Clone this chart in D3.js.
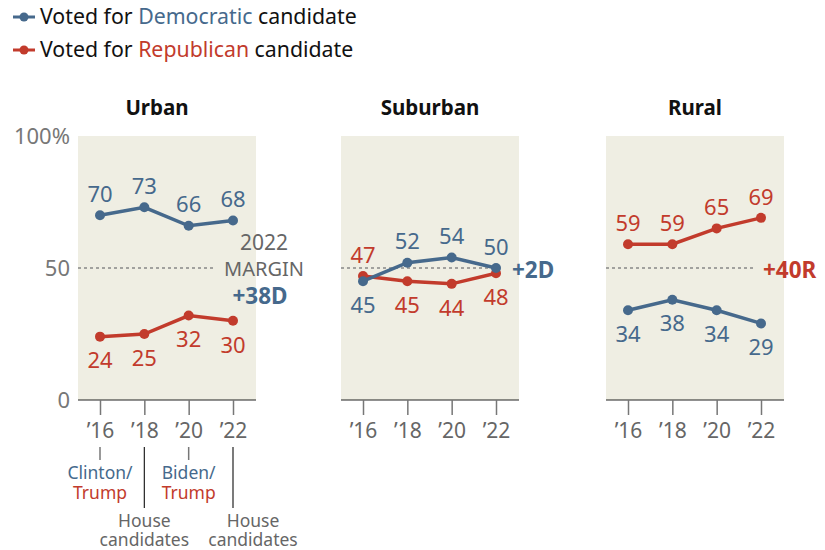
<!DOCTYPE html>
<html>
<head>
<meta charset="utf-8">
<script src="https://cdn.jsdelivr.net/npm/d3@7"></script>
<style>
  body { margin: 0; background: #fff; }
  svg { font-family: "Noto Sans", "Liberation Sans", Arial, sans-serif; }
</style>
</head>
<body>
<div id="chart"></div>
<script>
// data
var years = ["2016", "2018", "2020", "2022"];
var areas = ["Urban", "Suburban", "Rural"];
var demValues = [[70, 73, 66, 68], [45, 52, 54, 50], [34, 38, 34, 29]];
var repValues = [[24, 25, 32, 30], [47, 45, 44, 48], [59, 59, 65, 69]];
var yTicks = [0, 50, 100];
var noteTop = ["Clinton/", "", "Biden/", ""];
var noteBottom = ["Trump", "", "Trump", ""];
var noteHouse = [false, true, false, true];

var BLUE = "#46698c", RED = "#c23b2c", BG = "#efeee3", GRAY = "#777";
var FONT = "Noto Sans, Liberation Sans, Arial, sans-serif";

var svg = d3.select("#chart").append("svg")
    .attr("width", 825)
    .attr("height", 550);

// legend
var legend = [
    {label: "Democratic", color: BLUE, y: 17},
    {label: "Republican", color: RED, y: 50}
];
legend.forEach(function(l) {
    var g = svg.append("g");
    g.append("line").attr("x1", 13).attr("x2", 35).attr("y1", l.y).attr("y2", l.y)
        .attr("stroke", l.color).attr("stroke-width", 3);
    g.append("circle").attr("cx", 24).attr("cy", l.y).attr("r", 4.5).attr("fill", l.color);
    var t = g.append("text").attr("x", 40).attr("y", l.y).attr("dy", "0.35em")
        .attr("font-size", 21.3).attr("fill", "#111");
    t.append("tspan").text("Voted for ");
    t.append("tspan").attr("fill", l.color).text(l.label);
    t.append("tspan").text(" candidate");
});

var y = d3.scaleLinear().domain([0, 100]).range([400, 136]);

var panelLeft = [78, 341, 606];
var panelW = 178;
var dashEnd = [137, 156, 147];
var marginX = [264, 512, 763];
var noteShift = [0, 0, 0, 20];

// y axis (labels only)
svg.append("g")
    .attr("transform", "translate(" + panelLeft[0] + ",0)")
    .call(d3.axisLeft(y).tickValues(yTicks).tickSize(0).tickPadding(8)
        .tickFormat(function(d) { return d === 100 ? "100%" : d; }))
    .call(function(g) {
        g.select(".domain").remove();
        g.selectAll("text").attr("font-size", 22).attr("fill", GRAY)
            .attr("font-family", FONT);
    });

areas.forEach(function(area, p) {
    var left = panelLeft[p];
    var x = d3.scalePoint().domain(years).range([left + 22, left + 155]);
    var g = svg.append("g");

    g.append("rect").attr("x", left).attr("y", y(100)).attr("width", panelW)
        .attr("height", y(0) - y(100)).attr("fill", BG);

    g.append("text").attr("x", p === 0 ? left + 79 : left + panelW / 2).attr("y", 108)
        .attr("dy", "0.35em").attr("text-anchor", "middle")
        .attr("font-size", 20.5).attr("font-weight", "bold").attr("fill", "#111")
        .text(area);

    g.append("line").attr("x1", left).attr("x2", left + dashEnd[p])
        .attr("y1", y(50)).attr("y2", y(50))
        .attr("stroke", "#888").attr("stroke-width", 1.5).attr("stroke-dasharray", "3,3");

    // x axis
    g.append("line").attr("x1", left).attr("x2", left + panelW)
        .attr("y1", y(0)).attr("y2", y(0)).attr("stroke", "#222").attr("stroke-width", 1.2);
    g.append("g").attr("transform", "translate(0," + y(0) + ")")
        .call(d3.axisBottom(x).tickSize(15).tickPadding(8)
            .tickFormat(function(d) { return "\u2019" + d.slice(2); }))
        .call(function(a) {
            a.select(".domain").remove();
            a.selectAll(".tick line").attr("stroke", GRAY).attr("stroke-width", 1.5);
            a.selectAll("text").attr("font-size", 21).attr("fill", "#666")
                .attr("font-family", FONT);
        });

    var dem = demValues[p], rep = repValues[p];
    var series = [
        {vals: rep, color: RED, other: dem},
        {vals: dem, color: BLUE, other: rep}
    ];
    var line = d3.line().x(function(d, i) { return x(years[i]); }).y(function(d) { return y(d); });

    series.forEach(function(s) {
        g.append("path").datum(s.vals).attr("d", line)
            .attr("fill", "none").attr("stroke", s.color).attr("stroke-width", 3.5);
        g.selectAll(null).data(s.vals).enter().append("circle")
            .attr("cx", function(d, i) { return x(years[i]); })
            .attr("cy", function(d) { return y(d); })
            .attr("r", 5).attr("fill", s.color);
    });
    series.forEach(function(s) {
        g.selectAll(null).data(s.vals).enter().append("text")
            .attr("x", function(d, i) { return x(years[i]); })
            .attr("y", function(d, i) { return y(d) + (d > s.other[i] ? -21 : 24); })
            .attr("dy", "0.35em").attr("text-anchor", "middle")
            .attr("font-size", 22).attr("fill", s.color)
            .text(function(d) { return d; });
    });

    // 2022 margin
    var last = years.length - 1;
    var diff = dem[last] - rep[last];
    var mText = "+" + Math.abs(diff) + (diff > 0 ? "D" : "R");
    var mColor = diff > 0 ? BLUE : RED;
    if (p === 0) {
        var cx = marginX[p];
        g.append("text").attr("x", cx).attr("y", 243).attr("dy", "0.35em")
            .attr("text-anchor", "middle").attr("font-size", 21).attr("fill", "#666").text("2022");
        g.append("text").attr("x", cx).attr("y", 269).attr("dy", "0.35em")
            .attr("text-anchor", "middle").attr("font-size", 20).attr("fill", "#666").text("MARGIN");
        g.append("text").attr("x", cx - 4).attr("y", 296).attr("dy", "0.35em")
            .attr("text-anchor", "middle").attr("font-size", 22.5).attr("font-weight", "bold")
            .attr("fill", mColor).text(mText);
    } else {
        g.append("text").attr("x", marginX[p]).attr("y", y(50) + 2).attr("dy", "0.35em")
            .attr("font-size", 22.5).attr("font-weight", "bold").attr("fill", mColor).text(mText);
    }

    // notes under the urban axis
    if (p === 0) {
        years.forEach(function(yr, i) {
            var nx = x(yr);
            if (noteHouse[i]) {
                g.append("line").attr("x1", nx).attr("x2", nx).attr("y1", 447).attr("y2", 508)
                    .attr("stroke", "#222").attr("stroke-width", 1.2);
                g.append("text").attr("x", nx + noteShift[i]).attr("y", 521).attr("dy", "0.35em")
                    .attr("text-anchor", "middle").attr("font-size", 17.5).attr("fill", "#666").text("House");
                g.append("text").attr("x", nx + noteShift[i]).attr("y", 540).attr("dy", "0.35em")
                    .attr("text-anchor", "middle").attr("font-size", 17.5).attr("fill", "#666").text("candidates");
            } else {
                g.append("line").attr("x1", nx).attr("x2", nx).attr("y1", 447).attr("y2", 460)
                    .attr("stroke", GRAY).attr("stroke-width", 1.5);
                g.append("text").attr("x", nx).attr("y", 473).attr("dy", "0.35em")
                    .attr("text-anchor", "middle").attr("font-size", 17.5).attr("fill", BLUE).text(noteTop[i]);
                g.append("text").attr("x", nx).attr("y", 493).attr("dy", "0.35em")
                    .attr("text-anchor", "middle").attr("font-size", 17.5).attr("fill", RED).text(noteBottom[i]);
            }
        });
    }
});
</script>
</body>
</html>
